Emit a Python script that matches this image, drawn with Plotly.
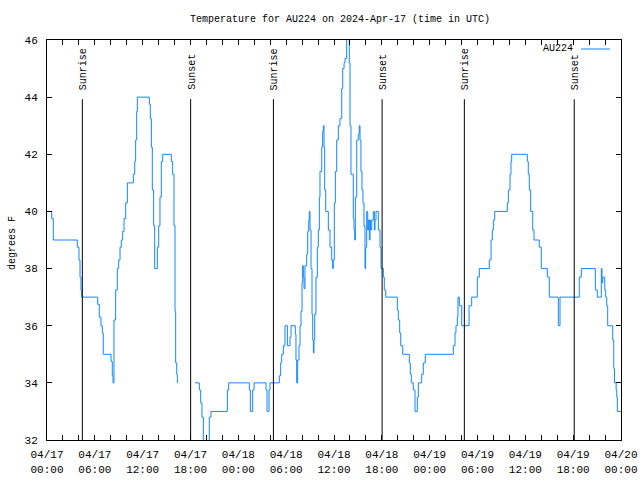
import pandas as pd
import plotly.graph_objects as go

# hours since 2024-04-17 00:00 UTC, and temperature (deg F); None = data gap
hours = [
    0.00, 0.59, 0.79, 3.80, 4.01, 4.14, 4.26, 4.35, 6.36, 6.56, 6.77, 6.94, 7.06,
    8.03, 8.19, 8.28, 8.40, 8.61, 8.82, 8.99, 9.16, 9.32, 9.49, 9.66, 9.87, 10.08,
    10.83, 11.00, 11.12, 11.25, 11.33, 12.84, 12.96, 13.09, 13.21, 13.38, 13.51,
    13.84, 14.01, 14.17, 14.34, 14.51, 15.60, 15.76, 15.93, 16.06, 16.14, 16.27,
    16.35, 16.40, 17.00,
    18.56, 19.11, 19.28, 19.44, 19.61, 20.36, 20.57, 22.62, 22.79, 25.38, 25.51,
    25.80, 25.97, 27.47, 27.60, 27.85, 27.97, 29.14, 29.31, 29.44, 29.65, 29.85,
    30.15, 30.48, 30.61, 31.15, 31.23, 31.32, 31.44, 31.61, 31.74, 31.86, 31.99,
    32.07, 32.15, 32.24, 32.36, 32.57, 32.70, 32.83, 32.90, 32.99, 33.12, 33.24,
    33.33, 33.41, 33.49, 33.58, 33.74, 33.91, 34.03, 34.16, 34.24, 34.46, 34.58,
    34.66, 34.75, 34.83, 34.96, 35.29, 35.50, 35.71, 35.83, 35.91, 36.04, 36.17,
    36.34, 36.54, 36.75, 36.97, 37.09, 37.26, 37.38, 37.59, 37.92, 38.01, 38.13,
    38.42, 38.51, 38.60, 38.68, 38.85, 39.05, 39.17, 39.26, 39.38, 39.51, 39.63,
    39.76, 39.89, 39.97, 40.10, 40.23, 40.31, 40.43, 40.52, 40.60, 40.73, 40.93,
    41.06, 41.14, 41.27, 41.56, 41.77, 41.90, 42.19, 42.31, 42.49, 43.94, 44.07,
    44.24, 44.37, 44.62, 45.45, 45.57, 45.70, 45.95, 46.16, 46.45, 46.58, 47.00,
    47.20, 47.45, 50.97, 51.18, 51.30, 51.47, 51.55, 51.72, 52.02, 52.94, 53.27,
    53.98, 54.23, 55.48, 55.70, 55.86, 55.99, 56.16, 57.74, 57.87, 58.08, 58.20,
    58.29, 60.25, 60.37, 60.50, 60.67, 60.93, 61.09, 61.75, 62.00, 62.76, 63.01,
    64.14, 64.35, 66.77, 67.02, 68.78, 69.03, 69.53, 69.62, 69.71, 69.96, 70.08,
    70.21, 70.33, 70.96, 71.09, 71.18, 71.39, 71.47, 71.54, 72.00,
]
temps = [
    40.0, 39.75, 39.0, 38.75, 38.3, 37.7, 37.25, 37.0, 36.75, 36.3, 36.0, 35.75, 35.0,
    34.75, 34.25, 34.0, 36.2, 37.25, 38.0, 38.3, 38.75, 39.0, 39.3, 39.75, 40.3, 41.0,
    41.3, 41.75, 42.5, 43.5, 44.0, 43.75, 43.25, 42.25, 40.75, 39.5, 38.0,
    38.75, 39.5, 40.5, 41.75, 42.0, 41.75, 41.3, 39.5, 36.5, 34.7, 34.3,
    34.0, 34.0, None,
    34.0, 33.75, 33.3, 32.8, 31.8, 32.8, 33.0, 33.75, 34.0, 33.75, 33.0,
    33.75, 34.0, 33.75, 33.0, 33.75, 34.0, 34.25, 34.7, 35.0, 35.3, 36.0,
    35.3, 35.6, 36.0, 35.7, 34.8, 34.0, 34.8, 35.3, 36.0, 36.5, 37.5,
    38.1, 37.7, 37.3, 38.1, 38.5, 39.3, 39.7, 40.0, 39.35, 38.0, 36.4,
    35.5, 35.05, 35.5, 36.4, 37.7, 38.75, 39.35, 40.5, 41.4, 42.25, 42.8,
    43.0, 42.25, 40.75, 40.0, 39.35, 38.75, 38.3, 38.0, 38.3, 40.3, 41.4,
    42.5, 43.0, 43.25, 44.3, 45.0, 45.2, 45.35, 46.3, 45.2, 43.0, 41.3,
    39.75, 39.35, 39.0, 40.5, 42.5, 42.7, 43.0, 42.5, 41.4, 40.75, 40.3,
    39.5, 38.0, 38.75, 40.0, 39.35, 39.7, 39.0, 39.7, 39.35, 39.7, 40.0,
    39.35, 39.7, 40.0, 39.35, 38.75, 38.0, 37.7, 37.25, 37.0, 36.55, 36.2,
    35.75, 35.3, 35.0, 34.7, 34.3, 34.0, 33.75, 33.0, 33.5, 34.0, 34.3,
    34.7, 35.0, 35.3, 35.75, 36.0, 36.3, 37.0, 36.7, 36.0, 36.7, 37.0,
    37.7, 38.0, 38.3, 39.0, 39.35, 39.7, 40.0, 40.3, 40.75, 41.3, 41.75,
    42.0, 41.75, 41.3, 40.75, 40.0, 39.35, 39.0, 38.75, 38.0, 37.7, 37.0,
    36.0, 37.0, 37.7, 38.0, 37.25, 37.0, 38.0, 37.5, 37.7, 37.25, 37.0,
    36.7, 36.0, 35.5, 34.5, 34.0, 33.75, 33.5, 33.0, 33.0,
]

sun_events = ["Sunrise", "Sunset", "Sunrise", "Sunset", "Sunrise", "Sunset"]
sun_times = ["2024-04-17 04:26", "2024-04-17 18:01", "2024-04-18 04:24",
             "2024-04-18 18:02", "2024-04-19 04:21", "2024-04-19 18:08"]

title_text = "Temperature for AU224 on 2024-Apr-17 (time in UTC)"
series_name = "AU224"
y_label = "degrees F"

base = pd.Timestamp("2024-04-17 00:00")
times = [base + pd.Timedelta(hours=h) for h in hours]

FONT = "Liberation Mono"
LINE_COLOR = "rgb(20,135,255)"

fig = go.Figure()
fig.add_trace(go.Scatter(
    x=times, y=temps, mode="lines", line=dict(color=LINE_COLOR, width=1, shape="hv"),
    name=series_name, showlegend=False, connectgaps=False, hoverinfo="skip",
))

shapes = []
annotations = []
for ev, t in zip(sun_events, sun_times):
    shapes.append(dict(type="line", xref="x", yref="paper", x0=t, x1=t, y0=0, y1=0.852,
                       line=dict(color="black", width=1)))
    annotations.append(dict(x=t, xref="x", y=0.87, yref="paper", text=ev, textangle=-90,
                            showarrow=False, xanchor="center", yanchor="bottom",
                            xshift=1, font=dict(family=FONT, size=10, color="black")))

# legend (gnuplot style: text then sample)
annotations.append(dict(x=(575 - 47) / 574, xref="paper", y=(440 - 49) / 400, yref="paper",
                        text=series_name, showarrow=False, xanchor="right", yanchor="middle",
                        font=dict(family=FONT, size=10, color="black")))
shapes.append(dict(type="line", xref="paper", yref="paper",
                   x0=(581 - 47) / 574, x1=(610 - 47) / 574,
                   y0=(440 - 49) / 400, y1=(440 - 49) / 400,
                   line=dict(color=LINE_COLOR, width=1)))
# title
annotations.append(dict(x=(339.5 - 47) / 574, xref="paper", y=(440 - 20) / 400, yref="paper",
                        text=title_text, showarrow=False, xanchor="center", yanchor="middle",
                        font=dict(family=FONT, size=10, color="black")))
# y label
annotations.append(dict(x=(12 - 47) / 574, xref="paper", y=(440 - 243) / 400, yref="paper",
                        text=y_label, textangle=-90, showarrow=False, xanchor="center",
                        yanchor="middle", font=dict(family=FONT, size=10, color="black")))

fig.update_layout(
    width=640, height=480,
    margin=dict(l=47, r=19, t=40, b=40, autoexpand=False),
    paper_bgcolor="white", plot_bgcolor="white",
    font=dict(family=FONT, size=10, color="black"),
    shapes=shapes, annotations=annotations,
    showlegend=False,
)
fig.update_xaxes(
    range=["2024-04-17 00:00", "2024-04-20 00:00"],
    showgrid=False, zeroline=False,
    showline=True, linecolor="black", linewidth=1, mirror="ticks",
    ticks="inside", ticklen=5, tickcolor="black",
    tick0="2024-04-17 00:00", dtick=6 * 3600 * 1000,
    tickformat="%m/%d<br>%H:%M", ticklabelstandoff=4,
    minor=dict(ticks="inside", ticklen=5, dtick=2 * 3600 * 1000, tickcolor="black",
               showgrid=False),
    tickfont=dict(family=FONT, size=11),
)
fig.update_yaxes(
    range=[32, 46], dtick=2, showgrid=False, zeroline=False,
    showline=True, linecolor="black", linewidth=1, mirror="ticks",
    ticks="inside", ticklen=5, tickcolor="black", ticklabelstandoff=6,
    tickfont=dict(family=FONT, size=11),
)

fig.write_html(
    "out.html",
    config={"displayModeBar": False},
    post_script="document.body.style.margin='0';document.body.style.padding='0';",
)
